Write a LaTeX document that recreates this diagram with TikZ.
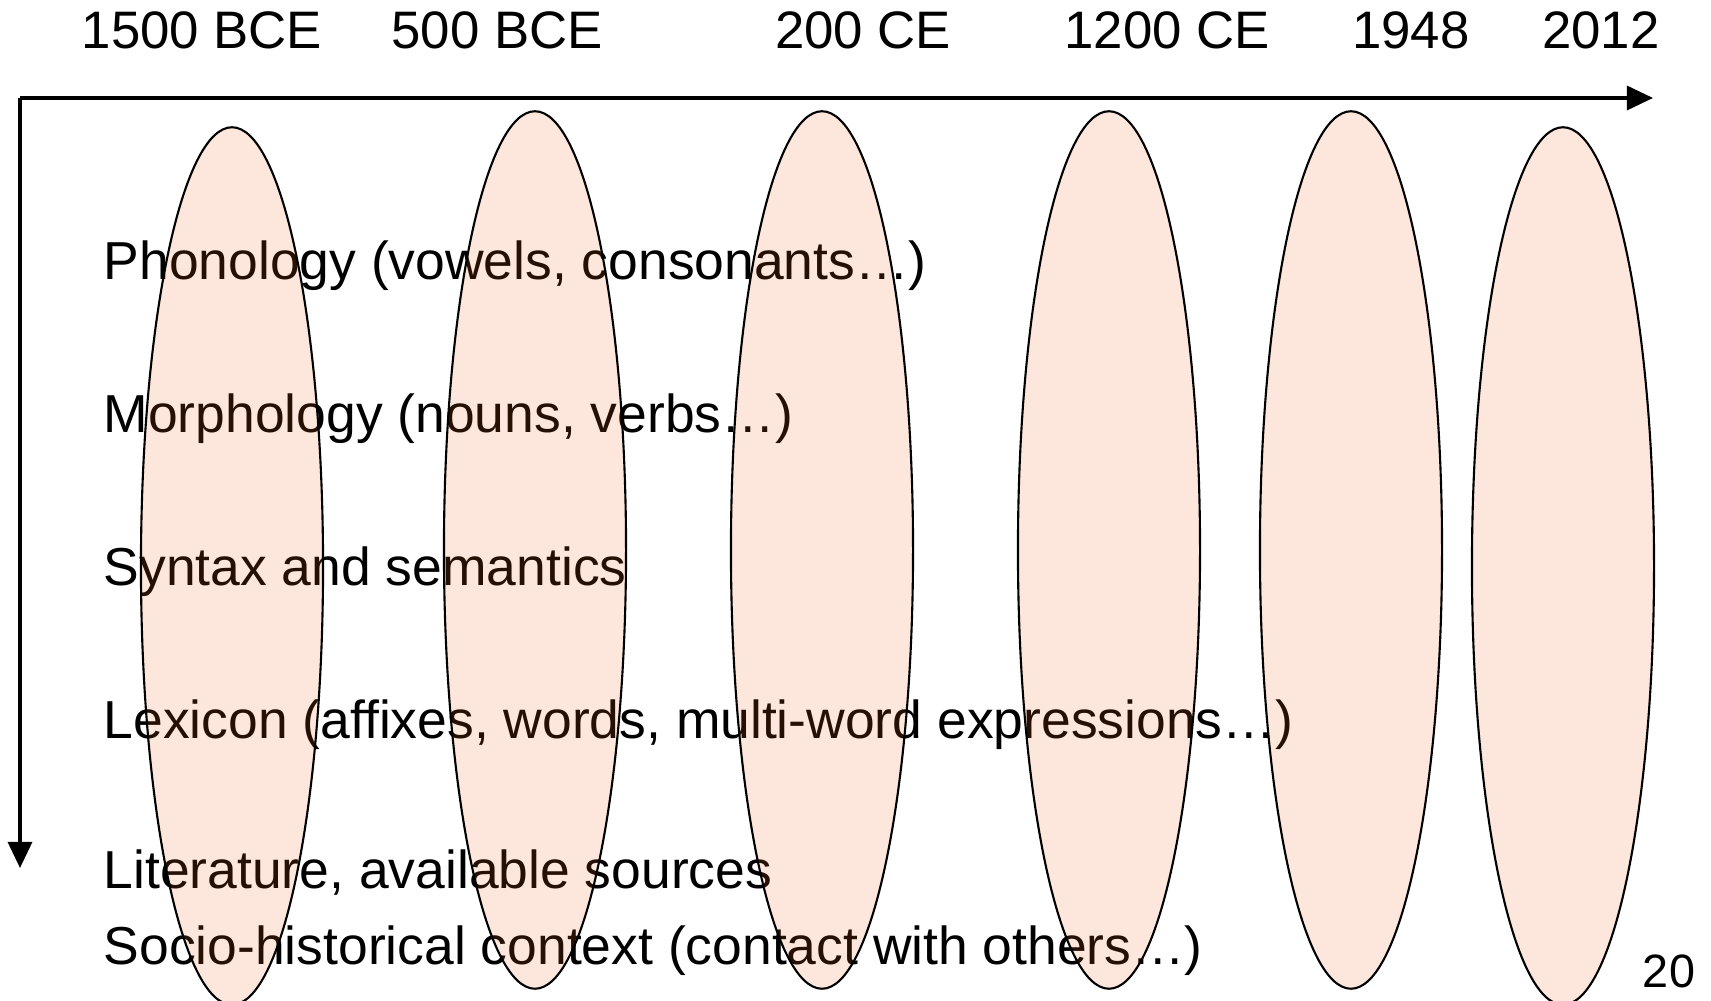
\documentclass[tikz,border=0pt]{standalone}
\usepackage{fontspec}
\setmainfont{Liberation Sans}
\usetikzlibrary{arrows.meta,shapes.geometric}

\definecolor{peach}{RGB}{240,100,30}
\tikzset{
  period/.style={ellipse, draw, line width=0.6pt, fill=peach, fill opacity=0.16,
    minimum width=1.82cm, minimum height=8.77cm, inner sep=0pt, outer sep=0pt},
  year/.style={font=\fontsize{15}{18}\selectfont, anchor=base, inner sep=0pt},
  aspect/.style={font=\fontsize{15.2}{18}\selectfont, anchor=base west, inner sep=0pt},
  axis/.style={line width=0.9pt, -{Triangle[length=0.26cm,width=0.24cm]}},
}

\begin{document}
\begin{tikzpicture}[x=0.01cm, y=-0.01cm]
  \useasboundingbox (0,0) rectangle (1711,1001);
  % time axis and depth axis
  \coordinate (origin) at (20,98);
  \coordinate (timeend) at (1653,98);
  \coordinate (depthend) at (20,868);
  \draw[axis] (origin) -- (timeend);
  \draw[axis] (origin) -- (depthend);
  % dates
  \foreach \n/\x/\t in {y1/202/1500 BCE, y2/497/500 BCE, y3/863/200 CE, y4/1167/1200 CE, y5/1411/1948, y6/1601/2012}
    \node[year] (\n) at (\x,49) {\t};
  % levels of description
  \node[aspect] (phon) at (103,280) {Phonology (vowels, consonants\dots)};
  \node[aspect] (morph) at (103,433) {Morphology (nouns, verbs\dots)};
  \node[aspect] (synt) at (103,586) {Syntax and semantics};
  \node[aspect] (lex) at (103,739) {Lexicon (affixes, words, multi-word expressions\dots)};
  \node[aspect] (lit) at (103,889) {Literature, available sources};
  \node[aspect] (socio) at (103,965) {Socio-historical context (contact with others\dots)};
  % periods
  \foreach \n/\x/\y in {a/232/566, b/535/550, c/822/550, d/1109/550, e/1351/550, f/1563/566}
    \node[period] (per\n) at (\x,\y) {};
  \node[font=\fontsize{13.3}{16}\selectfont, anchor=base, inner sep=0pt] (page) at (1669,988) {20};
\end{tikzpicture}
\end{document}
